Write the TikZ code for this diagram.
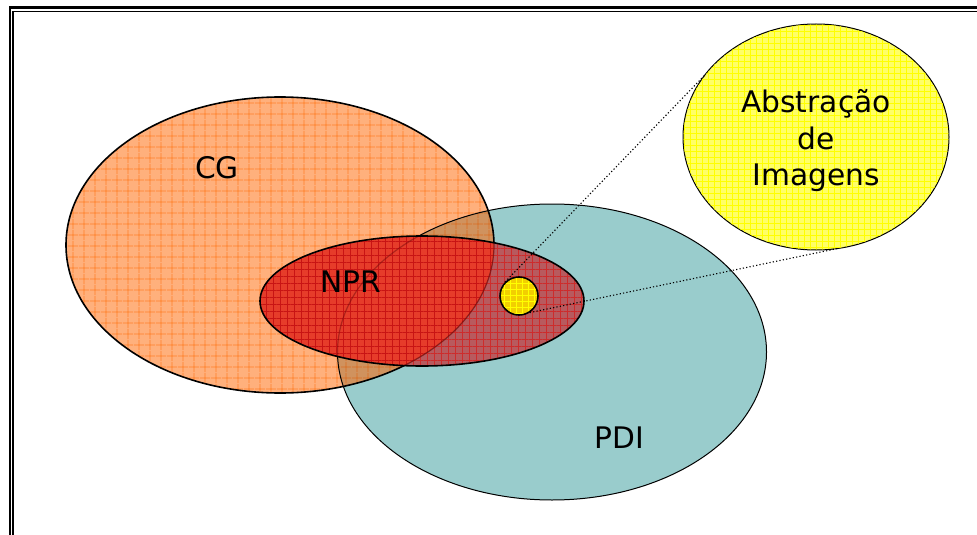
\documentclass[tikz,border=0pt]{standalone}
\usepackage{fontspec}
\setmainfont{DejaVu Sans}
\usetikzlibrary{shapes.geometric,patterns.meta}

\definecolor{cgfill}{HTML}{FFB07C}
\definecolor{cggrid}{HTML}{FF7F27}
\definecolor{cgpdi}{HTML}{D0925E}
\definecolor{pdifill}{HTML}{99CCCC}
\definecolor{nprfill}{HTML}{E63C2A}
\definecolor{nprgrid}{HTML}{C81414}
\definecolor{nprpdi}{HTML}{B85A5E}
\definecolor{dotfill}{HTML}{F2CF00}
\definecolor{absfill}{HTML}{FFFF66}

\begin{document}
\begin{tikzpicture}[x=1pt, y=-1pt,
    area/.style={ellipse, inner sep=0pt, outer sep=0pt},
    label/.style={font=\fontsize{29.7}{36.5}\selectfont, align=center, inner sep=0pt},
    grid/.style={pattern={Hatch[angle=0, distance=#1, line width=0.8pt]}}]
    \useasboundingbox (0,0) rectangle (977,535);
    \clip (0,0) rectangle (977,535);

    % Double frame
    \draw[line width=2.2pt] (9.7,540) -- (9.7,7.5) -- (990,7.5);
    \draw[line width=1.6pt] (13.2,540) -- (13.2,11.7) -- (990,11.7);

    % CG and PDI areas
    \node[area, minimum width=428, minimum height=296] (cg) at (280,245) {};
    \node[area, minimum width=429, minimum height=296] (pdi) at (552,352) {};
    \fill[cgfill] (cg.center) ellipse (214 and 148);
    \fill[grid=10.5pt, pattern color=cggrid] (cg.center) ellipse (214 and 148);
    \fill[pdifill] (pdi.center) ellipse (214.5 and 148);
    \begin{scope}
        \clip (pdi.center) ellipse (214.5 and 148);
        \fill[cgpdi] (cg.center) ellipse (214 and 148);
        \fill[grid=10.5pt, pattern color=cggrid!85!black] (cg.center) ellipse (214 and 148);
    \end{scope}
    \draw[line width=1.6pt] (cg.center) ellipse (214 and 148);
    \draw[line width=1pt] (pdi.center) ellipse (214.5 and 148);

    % NPR area
    \node[area, minimum width=324, minimum height=130] (npr) at (422,301) {};
    \fill[nprpdi] (npr.center) ellipse (162 and 65);
    \fill[grid=7pt, pattern color=nprgrid!90!white] (npr.center) ellipse (162 and 65);
    \begin{scope}
        \clip (npr.center) ellipse (162 and 65);
        \clip (cg.center) ellipse (214 and 148);
        \fill[nprfill] (npr.center) ellipse (162 and 65);
        \fill[grid=7pt, pattern color=nprgrid] (npr.center) ellipse (162 and 65);
    \end{scope}
    \begin{scope}
        \clip (npr.center) ellipse (162 and 65);
        \draw[line width=1.2pt, nprgrid!55!black, opacity=0.7] (cg.center) ellipse (214 and 148);
        \draw[line width=1.2pt, nprgrid!60!black, opacity=0.5] (pdi.center) ellipse (214.5 and 148);
    \end{scope}
    \draw[line width=1.6pt] (npr.center) ellipse (162 and 65);

    % Small circle and zoomed area
    \node[circle, draw, line width=1.6pt, fill=dotfill, minimum size=38, inner sep=0pt] (dot) at (519,296) {};
    \fill[grid=6pt, pattern color=yellow] (dot.center) circle (18);
    \node[area, draw, line width=1pt, fill=absfill, minimum width=266, minimum height=226] (abs) at (816,137) {};
    \fill[grid=6pt, pattern color=yellow] (abs.center) ellipse (132.5 and 112.5);

    % Dotted connectors
    \draw[line width=1.1pt, dash pattern=on 1.2pt off 2.2pt] (dot.135) -- (abs.151);
    \draw[line width=1.1pt, dash pattern=on 1.2pt off 2.2pt] (dot.-57) -- (abs.-79);

    % Labels
    \node[label] (cglabel) at (217,168) {CG};
    \node[label] (nprlabel) at (351,282) {NPR};
    \node[label] (pdilabel) at (619,438) {PDI};
    \node[label] (abslabel) at (816,141) {Abstração\\de\\Imagens};
\end{tikzpicture}
\end{document}
